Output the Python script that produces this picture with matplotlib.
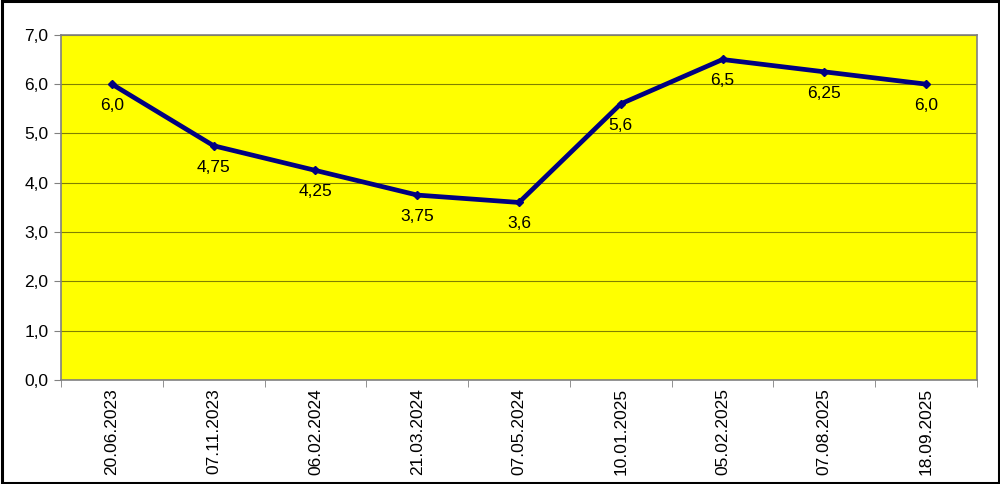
import matplotlib.pyplot as plt
from matplotlib.patches import Rectangle
import numpy as np

plt.rcParams['font.family'] = ['Liberation Sans', 'DejaVu Sans']

# Data
dates = ['20.06.2023', '07.11.2023', '06.02.2024', '21.03.2024', '07.05.2024',
         '10.01.2025', '05.02.2025', '07.08.2025', '18.09.2025']
rates = [6.0, 4.75, 4.25, 3.75, 3.6, 5.6, 6.5, 6.25, 6.0]
labels = ['6,0', '4,75', '4,25', '3,75', '3,6', '5,6', '6,5', '6,25', '6,0']
yticks = [0, 1, 2, 3, 4, 5, 6, 7]

fig = plt.figure(figsize=(10, 4.84), dpi=100)
ax = fig.add_axes([0.061, 0.215, 0.916, 0.713])
ax.set_facecolor('#ffff00')

x = np.arange(len(dates))
ax.plot(x, rates, color='#000080', linewidth=3.4, marker='D', markersize=4,
        solid_joinstyle='round', zorder=3)

for xi, yi, lab in zip(x, rates, labels):
    ax.annotate(lab, (xi, yi), xytext=(0, -10), textcoords='offset points',
                ha='center', va='top', fontsize=12.5, color='black')

# Axes
ax.set_xlim(-0.5, len(dates) - 0.5)
ax.set_ylim(0, 7)
ax.set_yticks(yticks)
ax.set_yticklabels([f'{v},0' for v in yticks], fontsize=12.5)
ax.set_xticks(x)
ax.set_xticklabels(dates, rotation=90, fontsize=12.5)
ax.tick_params(axis='x', which='major', length=0, pad=6)
ax.set_xticks(np.arange(-0.5, len(dates)), minor=True)
ax.tick_params(axis='x', which='minor', length=5, color='#808080')
ax.tick_params(axis='y', length=5, color='#808080', pad=4)
ax.grid(axis='y', color='#808000', linewidth=0.8)
ax.set_axisbelow(True)
for sp in ax.spines.values():
    sp.set_color('#808080')
    sp.set_linewidth(1.2)

# Outer frame
fig.patches.append(Rectangle((0.0015, 0.003), 0.997, 0.994, transform=fig.transFigure,
                             fill=False, edgecolor='black', linewidth=2.2))

fig.savefig('out.png', dpi=100, facecolor='white')
